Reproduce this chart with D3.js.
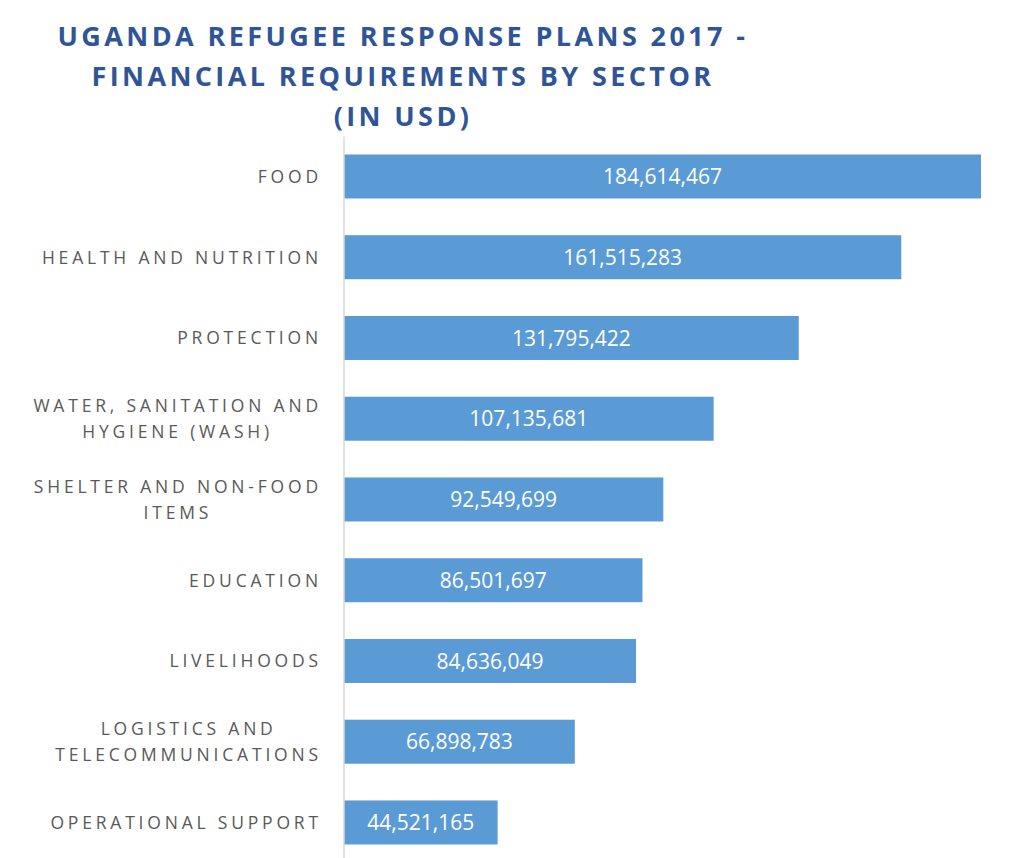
<!DOCTYPE html>
<html>
<head>
<meta charset="utf-8">
<script src="https://cdn.jsdelivr.net/npm/d3@7"></script>
<style>
  body { margin: 0; background: #fff; }
  svg { display: block; }
</style>
</head>
<body>
<svg id="chart" width="1029" height="858"></svg>
<script>
// sectors, top to bottom
var sectors = [
  "FOOD",
  "HEALTH AND NUTRITION",
  "PROTECTION",
  "WATER, SANITATION AND|HYGIENE (WASH)",
  "SHELTER AND NON-FOOD|ITEMS",
  "EDUCATION",
  "LIVELIHOODS",
  "LOGISTICS AND|TELECOMMUNICATIONS",
  "OPERATIONAL SUPPORT"
];
var requirements = [184614467, 161515283, 131795422, 107135681, 92549699, 86501697, 84636049, 66898783, 44521165];
var titleLines = ["UGANDA REFUGEE RESPONSE PLANS 2017 -", "FINANCIAL REQUIREMENTS BY SECTOR", "(IN USD)"];

var svg = d3.select('#chart');
var plotLeft = 344, plotRight = 981, plotTop = 136.1, step = 80.75;

var x = d3.scaleLinear().domain([0, d3.max(requirements)]).range([plotLeft, plotRight]);
var y = d3.scaleBand().domain(sectors)
  .range([plotTop, plotTop + step * sectors.length])
  .paddingInner(0.455).paddingOuter(0.2275);

// title
svg.append('g').selectAll('text').data(titleLines).enter().append('text')
  .attr('x', 403).attr('y', function(d, i) { return 46 + i * 40; })
  .attr('text-anchor', 'middle')
  .style('font-family', '"Open Sans", sans-serif')
  .style('font-weight', 'bold').style('font-size', '27px')
  .style('letter-spacing', '3.4px')
  .attr('fill', '#2F5597')
  .text(function(d) { return d; });

// bars
svg.append('g').selectAll('rect').data(requirements).enter().append('rect')
  .attr('x', x(0))
  .attr('y', function(d, i) { return y(sectors[i]); })
  .attr('width', function(d) { return x(d) - x(0); })
  .attr('height', y.bandwidth())
  .attr('fill', '#5B9BD5');

// value labels
svg.append('g').selectAll('text').data(requirements).enter().append('text')
  .attr('x', function(d) { return (x(0) + x(d)) / 2; })
  .attr('y', function(d, i) { return y(sectors[i]) + y.bandwidth() / 2; })
  .attr('dy', '0.36em')
  .attr('text-anchor', 'middle')
  .style('font-family', '"Open Sans", sans-serif')
  .style('font-size', '21px')
  .attr('fill', '#fff')
  .text(d3.format(','));

// axis
var axis = svg.append('g')
  .attr('transform', 'translate(' + (plotLeft - 0.5) + ',0)')
  .call(d3.axisLeft(y).tickSize(0).tickFormat(''));
axis.select('.domain').attr('stroke', '#D9D9D9').attr('stroke-width', 1.5);

// category labels (wrapped ones centred on their widest line)
var labelRight = 320;
var lab = svg.append('g').selectAll('text').data(sectors).enter().append('text')
  .style('font-family', '"Open Sans", sans-serif')
  .style('font-size', '17.5px')
  .style('letter-spacing', '3.8px')
  .attr('fill', '#595959');

lab.each(function(d) {
  var t = d3.select(this), lines = d.split('|');
  var cy = y(d) + y.bandwidth() / 2;
  var sp = 26;
  var spans = lines.map(function(l, i) {
    return t.append('tspan').attr('y', cy + (i - (lines.length - 1) / 2) * sp).attr('dy', '0.36em').text(l);
  });
  var widths = spans.map(function(s) { return s.node().getComputedTextLength(); });
  var maxW = d3.max(widths);
  spans.forEach(function(s) {
    s.attr('text-anchor', 'middle').attr('x', labelRight - maxW / 2 + 1.9);
  });
});
</script>
</body>
</html>
